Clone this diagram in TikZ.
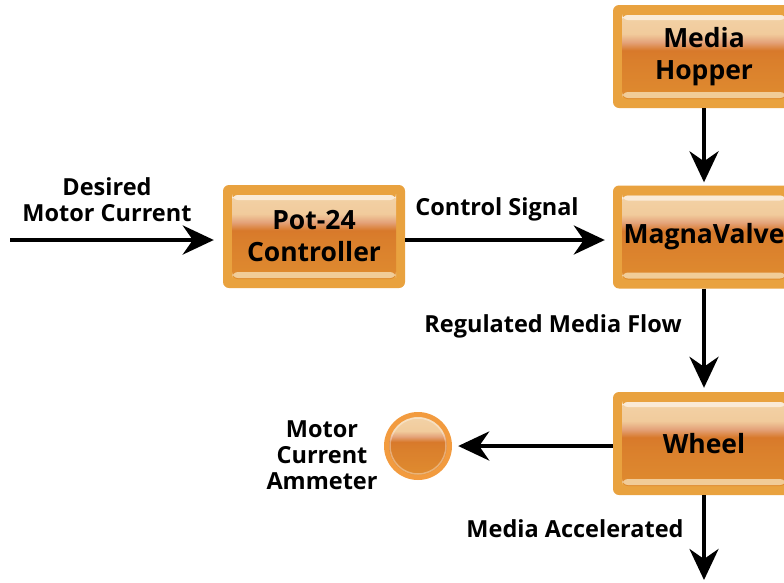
\documentclass[tikz,border=0pt]{standalone}
\usepackage{fontspec}
\setmainfont{Open Sans}
\usetikzlibrary{arrows.meta}
\definecolor{boxedge}{HTML}{E9A23F}
\definecolor{sbot}{HTML}{E08E30}
\definecolor{sdarkb}{HTML}{DA7F2C}
\definecolor{sdark}{HTML}{D8792B}
\definecolor{ssalmon}{HTML}{E4A37A}
\definecolor{speachb}{HTML}{F1CB9C}
\definecolor{speach}{HTML}{F3D3A8}
\definecolor{stopstrip}{HTML}{FAEAD6}
\definecolor{sbotstrip}{HTML}{F1CC98}
\definecolor{ringorange}{HTML}{F29B3F}
\pgfdeclareverticalshading{boxshade}{100bp}{color(0bp)=(sbot); color(25bp)=(sbot); color(48bp)=(sdarkb); color(53bp)=(sdark); color(57bp)=(ssalmon); color(61bp)=(speachb); color(72bp)=(speach); color(100bp)=(speach)}
\tikzset{
  bx/.style={rectangle, rounded corners=6pt, fill=boxedge, minimum width=182pt, minimum height=103pt,
    inner sep=0pt, align=center, font=\fontsize{26.5}{32}\selectfont\bfseries,
    path picture={
      \shade[shading=boxshade]
        ([shift={(9,10)}]path picture bounding box.north west) rectangle
        ([shift={(-9,-9)}]path picture bounding box.south east);
      \fill[stopstrip]
        ([shift={(9,10)}]path picture bounding box.north west) rectangle
        ([shift={(-9,15)}]path picture bounding box.north east);
      \fill[sbotstrip]
        ([shift={(9,-16)}]path picture bounding box.south west) rectangle
        ([shift={(-9,-10)}]path picture bounding box.south east);
    }},
  lbl/.style={font=\fontsize{23.5}{26}\selectfont\bfseries, align=center, inner sep=0pt},
  flow/.style={line width=4pt, -{Stealth[length=31pt,width=29pt,inset=10pt]}},
  meter/.style={circle, fill=ringorange, minimum size=68pt, inner sep=0pt,
    path picture={
      \shade[shading=boxshade] (path picture bounding box.center) circle (29pt);
      \draw[white, opacity=0.35, line width=1.5pt] (path picture bounding box.center) circle (28pt);
    }}
}
\begin{document}
\begin{tikzpicture}[x=1pt,y=-1pt]
\useasboundingbox (0,0) rectangle (784,582);
\clip (0,0) rectangle (784,582);
\node[bx] (pot) at (314,236.5) {Pot-24\\Controller};
\node[bx] (hop) at (704,56.5) {Media\\Hopper};
\node[bx] (valve) at (704,237) {MagnaValve};
\node[bx] (wheel) at (704,443.5) {Wheel};
\node[meter] (amm) at (418,446) {};
\coordinate (src) at (10,240);
\coordinate (out) at (704,582);
\draw[flow, shorten >=9pt] (src) -- (src -| pot.west);
\draw[flow, shorten >=8pt] ([yshift=-3.5pt]pot.east) -- ([yshift=-3.5pt]pot.east -| valve.west);
\draw[flow, shorten >=3pt] (hop.south) -- (valve.north);
\draw[flow, shorten >=4pt] (valve.south) -- (wheel.north);
\draw[flow, shorten >=6pt] (wheel.west |- amm.east) -- (amm.east);
\draw[flow, shorten >=2pt] (wheel.south) -- (out);
\node[lbl, anchor=base] (l1) at (107,221) {Desired\\Motor Current};
\node[lbl, anchor=base] (l2) at (497,215) {Control Signal};
\node[lbl, anchor=base] (l3) at (553,332) {Regulated Media Flow};
\node[lbl, anchor=base] (l4) at (322,489) {Motor\\Current\\Ammeter};
\node[lbl, anchor=base] (l5) at (575,537) {Media Accelerated};
\end{tikzpicture}
\end{document}
